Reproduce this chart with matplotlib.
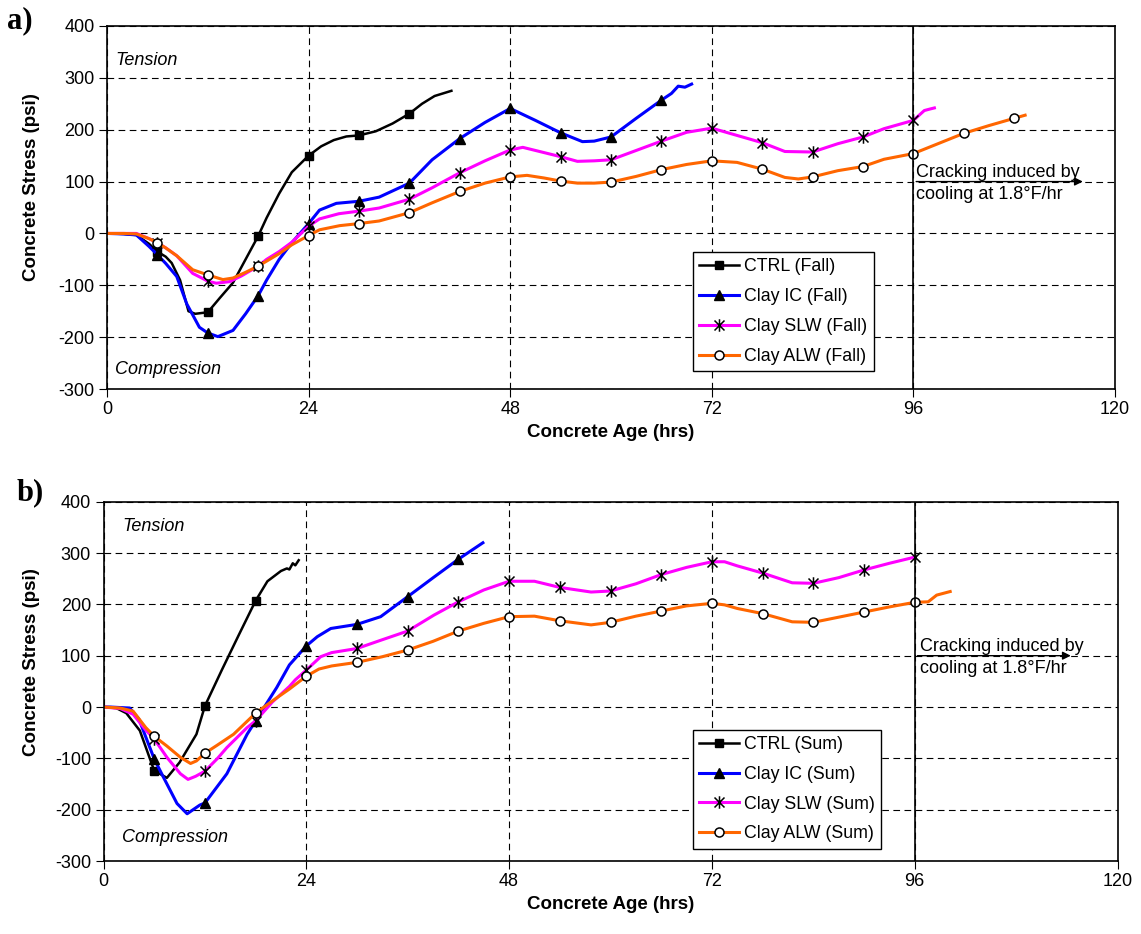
import matplotlib
matplotlib.use("Agg")
import matplotlib.pyplot as plt
from matplotlib.path import Path
import numpy as np

plt.rcParams['font.family'] = ['Liberation Sans', 'DejaVu Sans']
plt.rcParams['axes.unicode_minus'] = False

# ---------------- Data: panel a (Fall) ----------------
ctrl_a_t = [0, 2, 3.5, 5, 6, 7, 7.7, 8.7, 9.7, 10.5, 12, 13.4, 15, 16.5, 18, 19, 20.5, 22, 24,
            25.5, 27, 28.5, 30, 32, 34, 36, 37.5, 39, 41]
ctrl_a_v = [0, -1, -3, -20, -35, -45, -57, -90, -150, -155, -152, -125, -95, -50, -5, 30, 77, 118, 150,
            168, 180, 187, 189, 197, 212, 231, 250, 265, 275]

ic_a_t = [0, 2, 3.5, 5, 6, 7, 8.3, 9.5, 11, 12, 13.2, 15, 16.5, 18, 19, 20.5, 22, 24, 25.3, 27.3, 30,
          32.4, 34.4, 36, 38.7, 42, 45, 48, 51, 54, 56.6, 58, 60, 63, 66, 67.2, 68, 68.8, 69.6]
ic_a_v = [0, -1, -3, -25, -41, -58, -83, -136, -181, -192, -199, -187, -155, -120, -90, -50, -18, 19, 45, 58, 62,
          70, 85, 97, 142, 183, 214, 241, 218, 194, 177, 178, 186, 222, 257, 270, 284, 282, 288]

slw_a_t = [0, 2, 3.5, 5, 6, 7, 8.3, 10.2, 12, 13, 14.6, 16, 18, 19, 20.5, 22, 24, 25.3, 27.6, 30, 32.4,
           36, 38.7, 42, 45, 48, 49.5, 51, 54, 56, 58, 60, 63, 66, 69, 72, 75, 78, 80.7, 84, 87, 90,
           92.5, 96, 97.3, 98, 98.5]
slw_a_v = [0, 0, 0, -10, -18, -28, -43, -77, -92, -96, -93, -82, -63, -50, -35, -17, 14, 28, 38, 43, 49,
           66, 88, 117, 140, 161, 166, 160, 148, 139, 140, 142, 160, 178, 195, 203, 189, 175, 158, 157, 173, 186,
           202, 218, 237, 240, 242]

alw_a_t = [0, 2, 3.5, 5, 6, 7, 8.3, 10.2, 12, 13.8, 15, 16.5, 18, 20.5, 22, 24, 25.3, 27.7, 30, 32.4,
           36, 38.7, 42, 45, 48, 50, 52, 54, 56, 58, 60, 63, 66, 69, 72, 75, 78, 80.7, 82.3, 84, 87,
           90, 92.5, 96, 98, 100, 102, 105, 108, 109.3]
alw_a_v = [0, 0, -1, -10, -18, -28, -43, -70, -80, -89, -86, -75, -63, -39, -22, -4, 7, 15, 19, 24,
           40, 59, 81, 97, 109, 112, 107, 101, 97, 97, 99, 110, 123, 133, 140, 137, 124, 108, 105, 109, 121,
           129, 143, 154, 167, 180, 193, 208, 222, 228]

# ---------------- Data: panel b (Sum) ----------------
ctrl_b_t = [0, 1.5, 2.7, 4.3, 6, 7.5, 9, 11, 12, 14, 16, 18, 19.4, 21, 21.7, 22.0, 22.4, 22.7, 23.1]
ctrl_b_v = [0, -2, -12, -46, -124, -138, -108, -53, 2, 72, 140, 207, 245, 265, 270, 268, 280, 276, 286]

ic_b_t = [0, 0.8, 3.1, 4.2, 6, 7.1, 8.7, 9.9, 11.4, 12, 14.6, 17, 18, 19.5, 20.5, 22, 24, 25.3, 26.9,
          30, 32.8, 36, 39.1, 42, 44.9]
ic_b_v = [0, 0, -2, -24, -101, -137, -188, -208, -191, -187, -130, -53, -27, 12, 38, 82, 119, 137, 153,
          161, 176, 215, 253, 288, 320]

slw_b_t = [0, 2, 3.5, 5, 6, 7.5, 9.1, 10, 10.9, 12, 13.5, 14.6, 17, 18, 20, 22, 22.7, 24, 25.7, 27,
           30, 32.8, 36, 39.1, 42, 45, 48, 51, 54, 57.7, 60, 63, 66, 69, 72, 73.5, 75, 78, 81.5, 84,
           87, 90, 93, 96]
slw_b_v = [0, -3, -14, -45, -62, -98, -130, -141, -135, -125, -100, -79, -40, -27, 10, 40, 53, 72, 98, 106,
           114, 130, 148, 179, 205, 228, 245, 245, 233, 224, 226, 240, 258, 272, 283, 283, 275, 261, 242, 241,
           252, 267, 280, 292]

alw_b_t = [0, 2, 3.5, 5, 6, 7.5, 9.1, 10.3, 11, 12, 13.4, 15.4, 18, 20, 22, 24, 25.5, 27, 30, 33,
           36, 39, 42, 45, 48, 51, 54, 57.7, 60, 63, 66, 69, 72, 73.5, 75, 78, 81.5, 84, 87, 90,
           93, 96, 97.6, 98.6, 100.2]
alw_b_v = [0, -2, -8, -40, -57, -76, -98, -110, -105, -90, -75, -53, -12, 12, 35, 60, 74, 80, 87, 98,
           111, 128, 148, 163, 176, 177, 168, 160, 165, 177, 187, 197, 202, 199, 192, 182, 166, 165, 175, 185,
           195, 204, 205, 218, 225]

labels_a = ["CTRL (Fall)", "Clay IC (Fall)", "Clay SLW (Fall)", "Clay ALW (Fall)"]
labels_b = ["CTRL (Sum)", "Clay IC (Sum)", "Clay SLW (Sum)", "Clay ALW (Sum)"]
x_ticks = [0, 24, 48, 72, 96, 120]
y_ticks = [-300, -200, -100, 0, 100, 200, 300, 400]

# ---------------- Styling ----------------
star = Path([(0, -1), (0, 1), (-0.8, -0.8), (0.8, 0.8), (-0.8, 0.8), (0.8, -0.8)],
            [Path.MOVETO, Path.LINETO, Path.MOVETO, Path.LINETO, Path.MOVETO, Path.LINETO])

styles = [
    dict(color='black', lw=1.8, marker='s', ms=6, mfc='black', mec='black'),
    dict(color='#0000FF', lw=2.2, marker='^', ms=7, mfc='black', mec='black'),
    dict(color='#FF00FF', lw=2.2, marker=star, ms=9, mfc='none', mec='black', mew=1.1),
    dict(color='#FF6600', lw=2.2, marker='o', ms=6.5, mfc='white', mec='black', mew=1.1),
]

W, H = 1141, 934
fig = plt.figure(figsize=(W / 100, H / 100), dpi=100)


def mark_idx(t):
    return [i for i, v in enumerate(t) if v > 0 and abs(v / 6 - round(v / 6)) < 1e-9]


def draw_panel(ax, series, labels, tag, tag_xy, leg_anchor, tens_xy, comp_xy, arrow_end, crack_x,
               ylab_xy):
    for (t, v), lab, st in zip(series, labels, styles):
        ax.plot(t, v, label=lab, markevery=mark_idx(t), **st)
    ax.set_xlim(0, 120)
    ax.set_ylim(-300, 400)
    ax.set_xticks(x_ticks)
    ax.set_yticks(y_ticks)
    ax.tick_params(labelsize=13, direction='out', length=6, width=0.8, pad=3)
    ax.grid(True, color='black', linestyle=(0, (6, 4)), linewidth=0.8)
    for s in ax.spines.values():
        s.set_linewidth(1.2)
    ax.set_xlabel("Concrete Age (hrs)", fontsize=13.5, fontweight='bold', labelpad=4)
    ax.set_ylabel("Concrete Stress (psi)", fontsize=13.5, fontweight='bold')
    ax.yaxis.set_label_coords(*ylab_xy)
    ax.text(tens_xy[0], tens_xy[1], "Tension", fontsize=13, style='italic', va='center')
    ax.text(comp_xy[0], comp_xy[1], "Compression", fontsize=13, style='italic', va='center')
    ax.axvline(96, color='black', lw=1.2)
    ax.annotate("", xy=(arrow_end, 100), xytext=(96, 100),
                arrowprops=dict(arrowstyle='-|>', color='black', lw=1.0, mutation_scale=12))
    ax.text(crack_x, 109, "Cracking induced by", fontsize=13, va='baseline')
    ax.text(crack_x, 66, "cooling at 1.8\u00b0F/hr", fontsize=13, va='baseline')
    leg = ax.legend(loc='upper left', bbox_to_anchor=leg_anchor, fontsize=12.8, frameon=True,
                    fancybox=False, edgecolor='black', framealpha=1, handlelength=2.25,
                    labelspacing=0.72, borderpad=0.35, handletextpad=0.3, borderaxespad=0)
    leg.get_frame().set_linewidth(1.0)
    fig.text(tag_xy[0] / W, 1 - tag_xy[1] / H, tag, fontsize=22, fontweight='bold',
             family='Liberation Serif', va='center', ha='left')


ax1 = fig.add_axes([107 / W, 1 - 389 / H, 1008 / W, 363 / H])
draw_panel(ax1, [(ctrl_a_t, ctrl_a_v), (ic_a_t, ic_a_v), (slw_a_t, slw_a_v), (alw_a_t, alw_a_v)],
           labels_a, "a)", (7, 21), (0.581, 0.377), (1.0, 334), (1.0, -262), 116.5, 96.3,
           (-0.0665, 0.556))

ax2 = fig.add_axes([103.5 / W, 1 - 861 / H, 1014 / W, 359.3 / H])
draw_panel(ax2, [(ctrl_b_t, ctrl_b_v), (ic_b_t, ic_b_v), (slw_b_t, slw_b_v), (alw_b_t, alw_b_v)],
           labels_b, "b)", (17, 493), (0.581, 0.365), (2.2, 351), (2.2, -255), 114.8, 96.6,
           (-0.0626, 0.554))

fig.savefig("out.png", dpi=100)
